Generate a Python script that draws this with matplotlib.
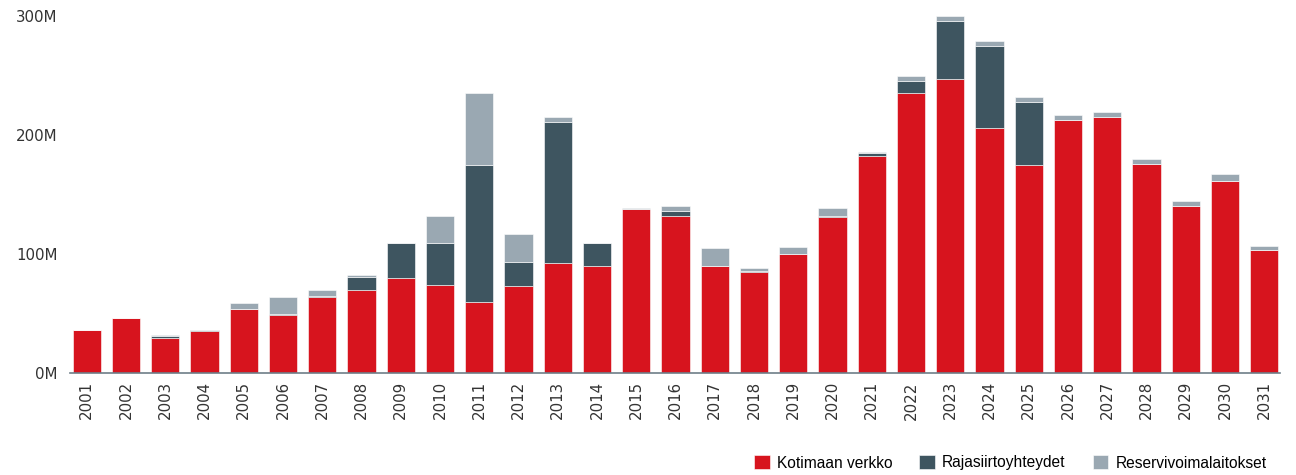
import matplotlib.pyplot as plt
import numpy as np

# Investments per year (M€)
years = [str(y) for y in range(2001, 2032)]
kotimaan = [36, 46, 29, 35.5, 54, 49, 64, 70, 80, 74,
            60, 73, 92, 90, 138, 132, 90, 85, 100, 131,
            182, 235.5, 247, 206, 175, 213, 215, 176, 140.5, 161, 103]
rajasiirto = [0, 0, 2, 0.5, 0, 0.5, 1, 11, 29.5, 35,
              115, 20, 119, 19, 0, 4, 0, 1, 0, 1,
              3, 10, 49, 69, 53, 0, 0, 0, 0, 0, 0]
reservi = [0, 0.5, 0.5, 0, 5, 14, 5, 1, 0, 23,
           60, 24, 4, 0.5, 1, 4, 15, 2.5, 5.5, 7,
           1, 4, 4, 4, 4, 4, 4, 4, 4, 6, 4]

labels = ["Kotimaan verkko", "Rajasiirtoyhteydet", "Reservivoimalaitokset"]
colors = ["#d7141e", "#3e5560", "#9aa8b2"]

fig = plt.figure(figsize=(12.96, 4.75), dpi=100)
ax = fig.add_axes([0.054, 0.215, 0.934, 0.751])

x = np.arange(len(years))
bottom = np.zeros(len(years))
for vals, lab, col in zip([kotimaan, rajasiirto, reservi], labels, colors):
    vals = np.array(vals)
    ax.bar(x, vals, 0.72, bottom=bottom, color=col, label=lab,
           edgecolor="white", linewidth=0.4)
    bottom += vals

ax.set_xlim(-0.43, 30.41)
ax.set_ylim(0, 300)
ax.set_yticks([0, 100, 200, 300])
ax.set_yticklabels(["0M", "100M", "200M", "300M"])
ax.set_xticks(x)
ax.set_xticklabels(years, rotation=90)
ax.tick_params(axis="both", length=0, labelsize=10.8, colors="#333333")
ax.tick_params(axis="y", pad=9)
ax.tick_params(axis="x", pad=6)

for s in ["top", "right", "left"]:
    ax.spines[s].set_visible(False)
ax.spines["bottom"].set_color("#6e7e88")
ax.spines["bottom"].set_linewidth(1.2)

fig.legend(loc="lower right", bbox_to_anchor=(0.988, -0.02), ncol=3,
           frameon=False, handlelength=1.0, handleheight=1.0,
           handletextpad=0.45, columnspacing=1.75,
           prop={"family": ["Liberation Sans", "DejaVu Sans"], "size": 11.2})

fig.savefig("out.png", dpi=100)
